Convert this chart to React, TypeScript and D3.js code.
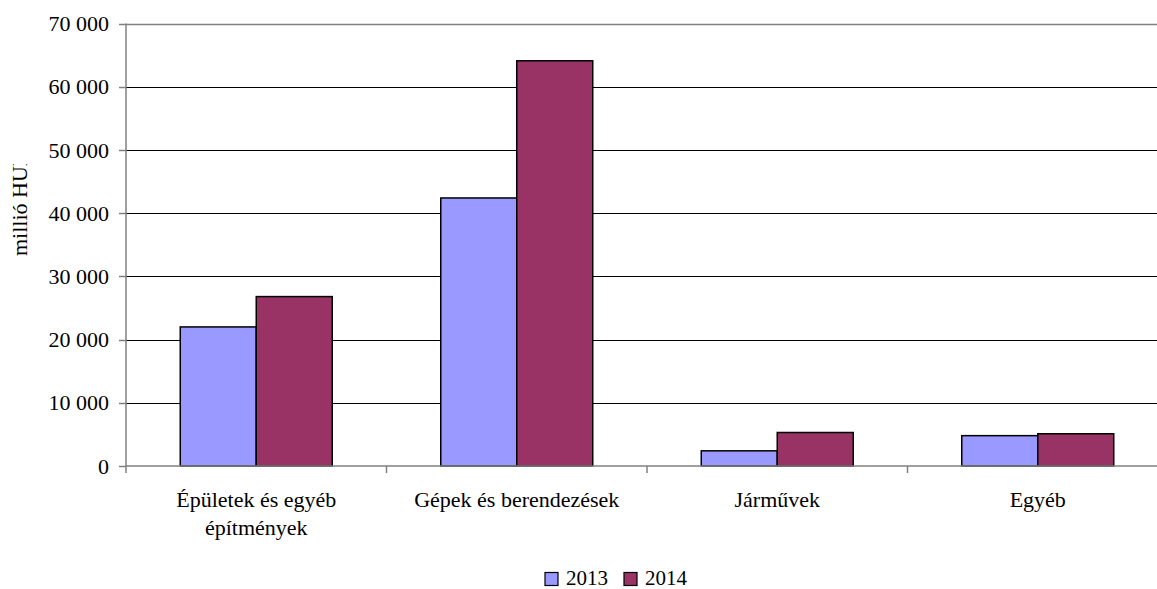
import React from "react";
import * as d3 from "d3";

const categories: string[][] = [
  ["Épületek és egyéb", "építmények"],
  ["Gépek és berendezések"],
  ["Járművek"],
  ["Egyéb"],
];
const seriesNames = ["2013", "2014"];
const values2013 = [22000, 42400, 2400, 4800];
const values2014 = [26800, 64100, 5300, 5100];
const seriesColors = ["#9999FF", "#993366"];
const yTicks = [0, 10000, 20000, 30000, 40000, 50000, 60000, 70000];

const W = 1157;
const H = 589;
const FONT = '"Liberation Serif", "Times New Roman", Tinos, "DejaVu Serif", serif';
const txt: React.CSSProperties = { fontFamily: FONT };

export default function App() {
  const left = 126;
  const top = 23.5;
  const bottom = 466;
  const catKeys = categories.map((c) => c.join(" "));
  const x = d3.scaleBand<string>().domain(catKeys).range([left, left + 4 * 260.5]).padding(0);
  const x1 = d3
    .scaleBand<string>()
    .domain(seriesNames)
    .range([0, x.bandwidth()])
    .paddingInner(0)
    .paddingOuter(0.714);
  const y = d3.scaleLinear().domain([0, 70000]).range([bottom, top]);
  const fmt = (v: number) => d3.format(",")(v).replace(/,/g, " ");
  const series = [values2013, values2014];
  const right = left + 4 * 260.5;

  return (
    <svg
      width={W}
      height={H}
      style={{ position: "absolute", left: 0, top: 0, background: "#fff", fontFamily: FONT }}
    >
      <defs>
        <clipPath id="ylab">
          <rect x={0} y={164} width={60} height={200} />
        </clipPath>
      </defs>
      <rect x={0} y={0} width={W} height={H} fill="#fff" />
      {/* gridlines */}
      {yTicks.slice(1).map((t) => (
        <line
          key={t}
          x1={left}
          x2={right}
          y1={Math.round(y(t)) + 0.5}
          y2={Math.round(y(t)) + 0.5}
          stroke={t === 70000 ? "#808080" : "#000"}
          strokeWidth={t === 70000 ? 1.5 : 1}
        />
      ))}
      {/* y ticks and labels */}
      {yTicks.map((t) => (
        <g key={"yt" + t}>
          <line x1={119} x2={left} y1={Math.round(y(t)) + 0.5} y2={Math.round(y(t)) + 0.5} stroke="#808080" strokeWidth={1.5} />
          <text x={109} y={y(t)} dy="0.35em" textAnchor="end" fontSize={22} fill="#000" style={txt}>
            {fmt(t)}
          </text>
        </g>
      ))}
      {/* bars */}
      {categories.map((c, i) => (
        <g key={"c" + i} transform={`translate(${x(catKeys[i])},0)`}>
          {seriesNames.map((s, j) => (
            <rect
              key={s}
              x={x1(s)}
              y={y(series[j][i])}
              width={x1.bandwidth()}
              height={bottom - y(series[j][i])}
              fill={seriesColors[j]}
              stroke="#000"
              strokeWidth={1.5}
            />
          ))}
        </g>
      ))}
      {/* axes */}
      <line x1={left} x2={left} y1={top} y2={bottom + 7} stroke="#808080" strokeWidth={1.5} />
      <line x1={left} x2={right} y1={bottom} y2={bottom} stroke="#808080" strokeWidth={1.5} />
      {catKeys.map((k, i) => (
        <line
          key={"xt" + i}
          x1={(x(k) as number) + x.bandwidth()}
          x2={(x(k) as number) + x.bandwidth()}
          y1={bottom}
          y2={bottom + 7}
          stroke="#808080"
          strokeWidth={1.5}
        />
      ))}
      {/* category labels */}
      {categories.map((c, i) => (
        <text
          key={"cl" + i}
          x={(x(catKeys[i]) as number) + x.bandwidth() / 2}
          y={507}
          textAnchor="middle"
          fontSize={22}
          fill="#000"
          style={txt}
        >
          {c.map((line, li) => (
            <tspan key={li} x={(x(catKeys[i]) as number) + x.bandwidth() / 2} dy={li === 0 ? 0 : 28}>
              {line}
            </tspan>
          ))}
        </text>
      ))}
      {/* y axis title */}
      <g clipPath="url(#ylab)">
        <text transform="translate(27,256) rotate(-90)" textAnchor="start" fontSize={22} fill="#000" style={txt}>
          millió HUF
        </text>
      </g>
      {/* legend */}
      {seriesNames.map((s, j) => (
        <g key={"lg" + s} transform={`translate(${545 + j * 79},0)`}>
          <rect x={0} y={572.5} width={13} height={13} fill={seriesColors[j]} stroke="#000" strokeWidth={1.2} />
          <text x={21} y={585} fontSize={21} fill="#000" style={txt}>
            {s}
          </text>
        </g>
      ))}
    </svg>
  );
}
